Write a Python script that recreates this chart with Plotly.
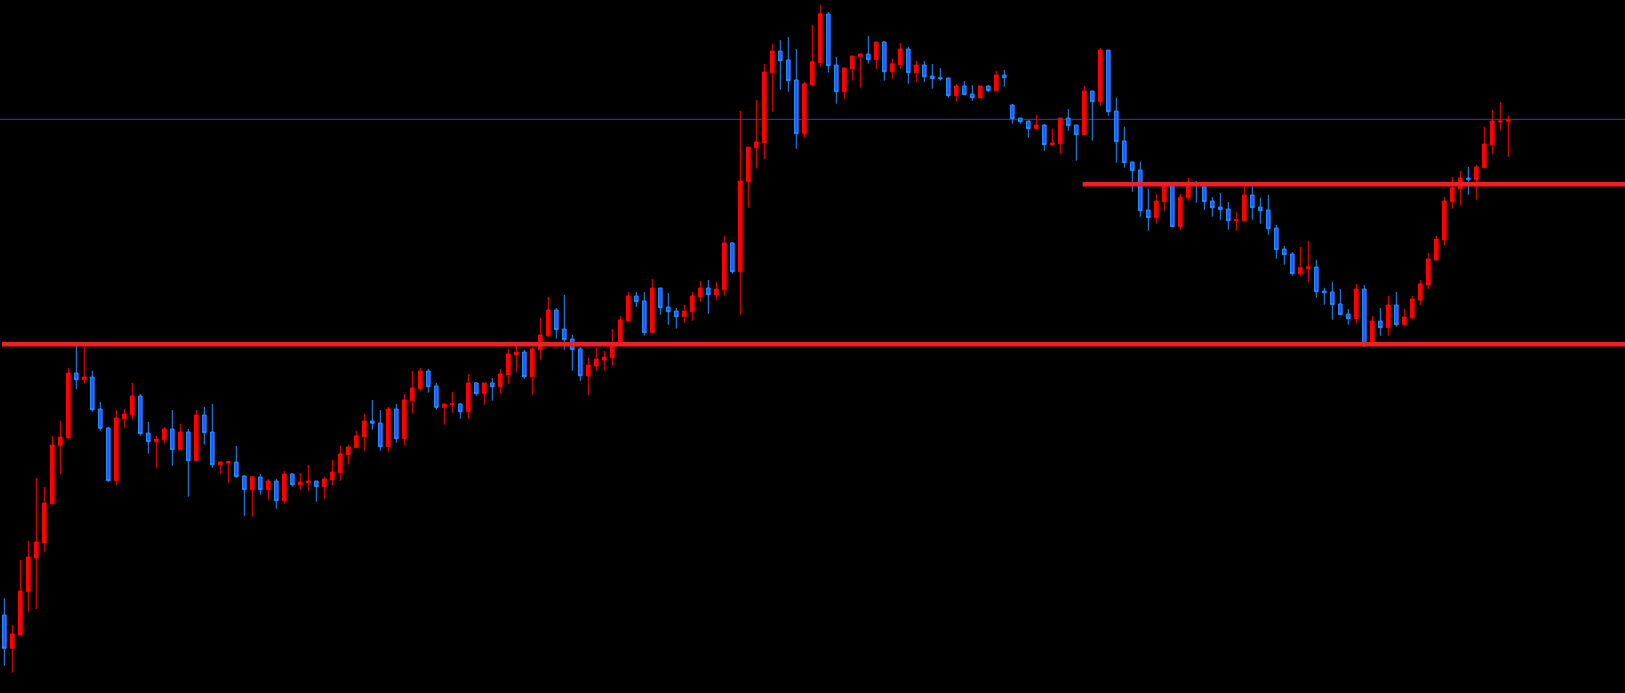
import plotly.graph_objects as go

# OHLC values (arbitrary price units)
opens = [78, 44.7, 58, 101.3, 135, 150, 189.3, 247.3, 255.3, 320, 313.3, 316, 284, 265, 212.3, 274.3, 278, 297, 260, 251.3,
         253.3, 264, 243.3, 261, 232.3, 278, 261, 228.3, 230, 231, 217, 203.3, 216, 203.3, 212, 192.3, 219, 208.3, 210.3, 212,
         206.3, 213.3, 220.3, 238.3, 245.3, 256.3, 272, 270, 246.3, 284, 254.3, 292.3, 304.3, 322, 307, 285.7, 288.3, 289, 281.3, 310,
         299.3, 310, 306.3, 318.3, 338, 341, 316.3, 343.3, 357.3, 383, 364, 354, 344, 317, 327, 333, 335.3, 351, 372, 397,
         392, 360.3, 405, 386, 382, 376.3, 381.3, 396, 405, 398, 403.3, 450, 421.3, 511.3, 545.3, 550.3, 620.3, 642, 633, 613,
         559.3, 608, 630.3, 679, 628, 601.3, 624, 636.3, 639, 633.3, 651, 621.3, 628.3, 644, 620.3, 628, 617, 615.3, 615, 597.3,
         607, 599, 595.3, 607, 602.3, 618, 588, 575, 572, 564.3, 568, 548.3, 549.3, 575, 568, 558.3, 602, 591.3, 643, 582,
         552, 531, 523, 483, 475.3, 491.3, 509, 466.3, 495.3, 510, 506.3, 492, 486, 484, 472.3, 472.3, 498, 486, 483, 465,
         444, 439, 419.3, 424.3, 426, 402, 401, 389, 379, 374.3, 404, 350, 372, 365.3, 388, 368.3, 375, 393, 408, 433,
         453, 491.3, 504.3, 515, 513.3, 525.3, 548.3, 571, 571.7]
highs = [94.7, 68, 133, 152, 215, 206, 257, 272, 325, 348, 346.3, 322, 291, 266, 283, 284, 310, 299, 271, 257,
         266, 283, 269, 264, 283, 286, 289, 232, 231, 247, 218, 216.3, 219, 214, 214, 222, 220, 220, 228, 212,
         216, 233, 247, 248, 262, 279, 293, 283, 286, 289, 299, 322, 325, 324, 310, 289, 301, 290, 319, 311,
         310, 315, 324, 344, 348, 343, 346, 375, 396, 385, 398, 358, 346, 335.3, 345, 342, 364, 377, 401, 401,
         401, 414, 405, 400, 385, 388, 401, 412, 413, 411, 457, 451, 582, 546, 593, 629, 649, 653, 656, 644,
         611.3, 668, 688, 681, 636, 625, 637, 640, 657, 651, 652, 634, 650, 646, 632, 632, 629, 625, 615.3, 609,
         612, 608, 607, 608, 622, 623, 589, 575, 572.3, 578, 569, 564.3, 575, 584, 568, 607, 602, 645, 643, 595.3,
         566.3, 531.3, 531.3, 504.3, 499, 511, 509, 499, 515, 512, 506.3, 496, 500, 491, 481.3, 506.3, 506.3, 495.3, 498, 468.3,
         447, 441, 446, 452, 433.3, 405.3, 411.3, 404, 384, 409, 408, 377, 385, 397, 401, 384, 397, 413, 440, 457,
         496, 516, 522, 526, 528, 566, 583, 591, 577]
lows = [27.3, 20.3, 58, 81.3, 84, 141.3, 188, 219, 254, 304, 309.3, 281.3, 262.3, 211.3, 208, 265.3, 273.3, 257.3, 239.3, 225.3,
        249.3, 227.3, 243.3, 196.3, 232.3, 248.3, 225.3, 219.3, 210.3, 215.3, 177.3, 176.3, 198.3, 193.3, 184.3, 189.3, 206.3, 203.3, 202.3, 191.3,
        194.3, 207.3, 212.3, 228.3, 245.3, 242.3, 263.3, 242.3, 241.3, 250.3, 247.3, 280, 302.3, 300.3, 283.3, 268.3, 280.3, 274.3, 274.3, 297.3,
        288.3, 292.3, 299.3, 309.3, 321.3, 314.3, 298.3, 333.3, 356, 354.3, 343.3, 322.3, 312, 298, 322, 323, 327, 351, 372, 386,
        357.3, 360.3, 378.3, 368.3, 364.3, 370.3, 372.3, 391.3, 379.3, 393.3, 397.3, 419.3, 378.3, 485.3, 524.3, 534, 581.3, 603.3, 601.3, 544.3,
        555.3, 607.3, 626.3, 620.3, 589.3, 594.3, 612.3, 605.3, 629.3, 624, 612.3, 614.3, 624.3, 609.3, 611.3, 611.3, 604.3, 612.3, 595.3, 591.3,
        598.3, 592.3, 594.3, 601.3, 602.3, 606.3, 569.3, 569.3, 555.3, 564.3, 542.3, 547.3, 539.3, 562.3, 532.3, 558.3, 552.3, 587.3, 577.3, 530.3,
        525.3, 501.3, 476.3, 462.3, 469.3, 482.3, 466.3, 463.3, 492.3, 490.3, 483.3, 476.3, 473.3, 463.3, 462.3, 472.3, 473.3, 469.3, 458.3, 434.3,
        428.3, 417.3, 417.3, 411.3, 395.3, 388.3, 373.3, 378.3, 368.3, 369.3, 346, 347, 357.3, 357.3, 366.3, 367.3, 374.3, 388, 404, 433,
        447, 484.3, 487.3, 498.3, 493.3, 525.3, 539.3, 563.3, 536.3]
closes = [44.7, 59, 102, 136, 151, 190, 248, 256, 320, 313.3, 316, 283.3, 264.7, 212.3, 275, 279, 297, 259.3, 251.3, 254,
          264, 243.3, 261, 232.3, 278, 260.3, 228.3, 231, 231.5, 216.3, 203.3, 216.3, 203.3, 212, 192.3, 219, 208.3, 211, 212, 206.3,
          214, 221, 239, 246, 257, 272, 269.7, 246.3, 284, 254.3, 293, 305, 322, 306.3, 285.7, 289, 289.3, 281.3, 310, 299.3,
          310, 306.3, 319, 339, 341, 316.3, 344, 358, 383, 363.3, 353.3, 343.3, 317.3, 328, 334, 336, 347, 373, 397, 391.3,
          360.3, 405, 385.3, 381.3, 376.3, 382, 397, 405, 398.3, 404, 450, 421.3, 512, 546, 551, 621, 642, 632.3, 612.3, 559.3,
          609.3, 631.3, 679.3, 627.3, 601.3, 625, 637, 639, 633.3, 651, 621.3, 629.3, 644, 620.3, 628, 616.3, 614.3, 614.3, 597.3, 607,
          598.3, 595.3, 607, 602.3, 618, 615.3, 574.3, 571.3, 564.3, 568, 548.3, 550, 575, 567.3, 558.3, 602, 591.3, 643, 581.3, 551.3,
          530.3, 522.3, 482.3, 475.3, 492, 510, 466.3, 496, 511, 508, 491.3, 485.3, 483.3, 472.3, 473.3, 498, 485.3, 482.3, 464.3, 443.3,
          438.3, 419.3, 425.3, 426.3, 401.3, 400.3, 388.3, 378.3, 374.3, 404, 349, 372, 365.3, 388, 368.3, 376, 394, 409, 434, 454,
          492, 505.3, 515, 513.3, 526, 549, 572, 572, 573.7]

# horizontal support / resistance levels: price and starting bar
level_prices = [348.7, 508.7]
level_start_bar = [-0.3, 134.8]
bar_index = list(range(len(opens)))
bid_price = closes[-1]

fig = go.Figure()
fig.add_trace(go.Candlestick(
    x=bar_index, open=opens, high=highs, low=lows, close=closes,
    increasing=dict(line=dict(color="#ff0000", width=1), fillcolor="#ff0000"),
    decreasing=dict(line=dict(color="#1e90ff", width=1), fillcolor="#3355ff"),
    whiskerwidth=0, hoverinfo="skip", showlegend=False,
))

# bid line (behind candles)
fig.add_shape(type="line", xref="paper", yref="y", x0=0, x1=1, y0=bid_price, y1=bid_price,
              line=dict(color="#4b3f8f", width=1), layer="below")

n_span = 1625 / 8.0
x_left = -4.3 / 8.0
for lvl, start in zip(level_prices, level_start_bar):
    fig.add_shape(type="line", xref="x", yref="y", x0=start, x1=x_left + n_span + 2, y0=lvl, y1=lvl,
                  line=dict(color="#ef1f28", width=4.5), layer="above")

fig.update_layout(
    width=1625, height=693,
    margin=dict(l=0, r=0, t=0, b=0),
    paper_bgcolor="#000000", plot_bgcolor="#000000",
    boxgap=0.35,
    xaxis=dict(range=[x_left, x_left + n_span], visible=False, showgrid=False, zeroline=False,
               rangeslider=dict(visible=False), fixedrange=True),
    yaxis=dict(range=[0, 693], visible=False, showgrid=False, zeroline=False, fixedrange=True),
    showlegend=False,
)

fig.write_html("out.html", config={"displayModeBar": False, "staticPlot": True},
               post_script="document.body.style.margin='0';document.body.style.background='#000';document.body.style.overflow='hidden';")
